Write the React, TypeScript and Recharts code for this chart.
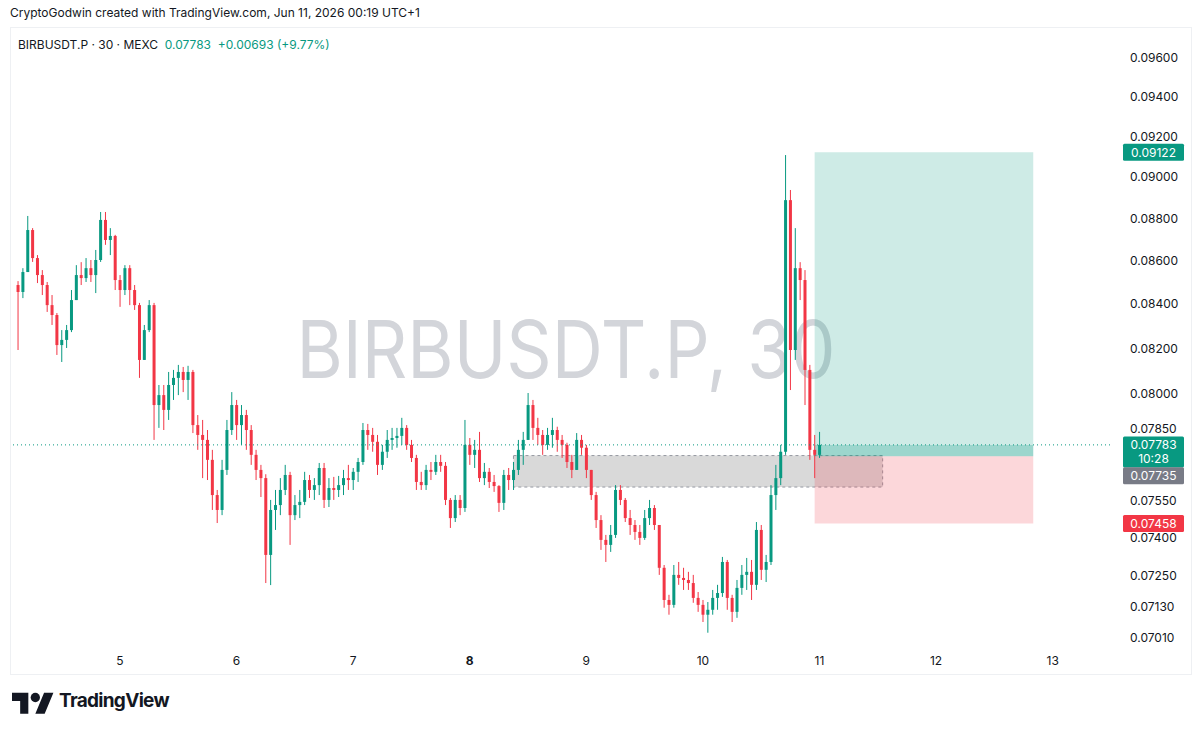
import {
  ComposedChart,
  Bar,
  XAxis,
  YAxis,
  ReferenceLine,
  ReferenceArea,
} from 'recharts';

// hourly candles, prices in units of 0.00001 USDT
const U = 1e-5;
const FIRST_OPEN = 8488;
const FIRST_HOUR = -21; // hours from Jun 5 00:00

const closes = [
  8456, 8548, 8745, 8613, 8534, 8488, 8396, 8351, 8216, 8239,
  8283, 8419, 8534, 8520, 8566, 8534, 8604, 8793, 8698, 8717,
  8511, 8465, 8566, 8465, 8396, 8150, 8283, 8396, 7953, 7996,
  7932, 8040, 8071, 8097, 8062, 8097, 7867, 7825, 7804, 7720,
  7574, 7513, 7678, 7846, 7953, 7867, 7910, 7846, 7741, 7678,
  7644, 7332, 7513, 7533, 7595, 7657, 7492, 7533, 7546, 7636,
  7595, 7615, 7686, 7554, 7603, 7595, 7615, 7644, 7636, 7670,
  7711, 7846, 7825, 7796, 7699, 7754, 7804, 7812, 7821, 7855,
  7783, 7728, 7628, 7615, 7678, 7670, 7711, 7695, 7554, 7480,
  7554, 7521, 7783, 7741, 7762, 7644, 7670, 7628, 7611, 7542,
  7657, 7636, 7678, 7762, 7804, 7953, 7855, 7825, 7783, 7825,
  7846, 7804, 7783, 7711, 7678, 7804, 7771, 7678, 7574, 7472,
  7392, 7372, 7412, 7595, 7554, 7480, 7452, 7424, 7400, 7480,
  7521, 7452, 7281, 7155, 7136, 7253, 7241, 7233, 7221, 7163,
  7136, 7098, 7117, 7163, 7182, 7304, 7163, 7109, 7202, 7253,
  7265, 7214, 7432, 7273, 7304, 7574, 7644, 7754, 8888, 8194,
  8566, 8511, 8106, 7762, 7741, 7783,
];

const highs = [
  8506, 8566, 8812, 8754, 8627, 8557, 8502, 8442, 8360, 8283,
  8306, 8465, 8580, 8594, 8613, 8604, 8651, 8831, 8831, 8754,
  8722, 8534, 8580, 8580, 8488, 8406, 8306, 8419, 8406, 8040,
  8040, 8097, 8106, 8128, 8119, 8124, 8106, 7910, 7889, 7846,
  7762, 7595, 7720, 7889, 8009, 7975, 7953, 7932, 7867, 7762,
  7699, 7660, 7554, 7595, 7644, 7699, 7670, 7574, 7595, 7670,
  7657, 7644, 7707, 7707, 7644, 7649, 7653, 7678, 7699, 7686,
  7728, 7876, 7872, 7855, 7825, 7783, 7846, 7855, 7855, 7898,
  7867, 7804, 7741, 7670, 7699, 7711, 7741, 7741, 7711, 7562,
  7574, 7574, 7889, 7812, 7804, 7838, 7707, 7686, 7657, 7615,
  7678, 7686, 7711, 7804, 7838, 8005, 7975, 7898, 7846, 7855,
  7898, 7860, 7825, 7792, 7741, 7833, 7825, 7783, 7678, 7587,
  7492, 7412, 7452, 7615, 7615, 7562, 7513, 7472, 7452, 7513,
  7554, 7533, 7452, 7292, 7175, 7292, 7304, 7281, 7265, 7253,
  7186, 7155, 7147, 7194, 7214, 7324, 7312, 7175, 7233, 7292,
  7320, 7312, 7464, 7452, 7332, 7615, 7699, 7783, 9108, 8937,
  8754, 8594, 8557, 8128, 7825, 7838,
];

const lows = [
  8194, 8428, 8548, 8595, 8497, 8442, 8365, 8306, 8172, 8141,
  8203, 8274, 8419, 8488, 8502, 8502, 8451, 8595, 8675, 8627,
  8465, 8388, 8442, 8396, 8374, 8071, 8150, 8274, 7804, 7855,
  7846, 7889, 7975, 7996, 8009, 7975, 7833, 7762, 7644, 7636,
  7513, 7460, 7492, 7657, 7825, 7804, 7783, 7762, 7699, 7636,
  7566, 7221, 7213, 7432, 7492, 7574, 7372, 7472, 7480, 7533,
  7562, 7554, 7574, 7521, 7525, 7554, 7566, 7574, 7595, 7595,
  7628, 7699, 7762, 7754, 7657, 7678, 7728, 7762, 7771, 7783,
  7762, 7711, 7595, 7595, 7595, 7636, 7657, 7670, 7533, 7440,
  7464, 7492, 7505, 7699, 7686, 7628, 7615, 7603, 7587, 7505,
  7513, 7595, 7595, 7657, 7699, 7804, 7804, 7783, 7741, 7762,
  7771, 7754, 7728, 7686, 7644, 7678, 7741, 7644, 7554, 7440,
  7352, 7304, 7344, 7400, 7533, 7464, 7412, 7392, 7372, 7392,
  7452, 7432, 7253, 7125, 7098, 7125, 7214, 7194, 7194, 7144,
  7109, 7070, 7029, 7098, 7117, 7167, 7117, 7070, 7086, 7175,
  7194, 7155, 7194, 7233, 7225, 7292, 7513, 7615, 7741, 8018,
  8150, 8419, 7953, 7720, 7644, 7728,
];

const priceTicks = [
  0.0701, 0.0713, 0.0725, 0.074, 0.0755, 0.0785, 0.08,
  0.082, 0.084, 0.086, 0.088, 0.09, 0.092, 0.094, 0.096,
];
const dayTicks = [0, 24, 48, 72, 96, 120, 144, 168, 192];
const dayLabels = ['5', '6', '7', '8', '9', '10', '11', '12', '13'];
const boldDay = '8';

const lastPrice = 0.07783;
const lastTimer = '10:28';
const entryPrice = 0.07735;
const targetPrice = 0.09122;
const stopPrice = 0.07458;
const positionHours = [143, 188];
const zoneHours = [81, 157];
const zonePrices = [0.07607, 0.07738];

const UP = '#089981';
const DOWN = '#f23645';
const TEXT = '#131722';

const data = closes.map((c, i) => {
  const open = (i === 0 ? FIRST_OPEN : closes[i - 1]) * U;
  return {
    t: FIRST_HOUR + i,
    open,
    close: c * U,
    high: highs[i] * U,
    low: lows[i] * U,
    range: [lows[i] * U, highs[i] * U],
  };
});

const Candle = (props: any) => {
  const { x, y, width, height, payload } = props;
  if (!payload) return null;
  const top = Math.min(y, y + height);
  const h = Math.abs(height);
  const { open, close, high, low } = payload;
  const span = Math.log(high) - Math.log(low) || 1;
  const pix = (p: number) => top + (h * (Math.log(high) - Math.log(p))) / span;
  const color = close >= open ? UP : DOWN;
  const cx = x + width / 2;
  const b1 = pix(Math.max(open, close));
  const b2 = pix(Math.min(open, close));
  return (
    <g>
      <line x1={cx} x2={cx} y1={top} y2={top + h} stroke={color} strokeWidth={1} />
      <rect x={x} y={b1} width={width} height={Math.max(1, b2 - b1)} fill={color} />
    </g>
  );
};

const tag = (text: string, bg: string, sub?: string, dy = 0) => (props: any) => {
  const vb = props.viewBox;
  if (!vb) return null;
  const x = vb.x + vb.width + 13;
  const top = vb.y - 8.5 + dy;
  const h = sub ? 31 : 17;
  return (
    <g>
      <rect x={x} y={top} width={61} height={h} rx={1.5} fill={bg} />
      <text x={x + 30.5} y={top + 12.8} textAnchor="middle" fill="#fff" fontSize={12} fontFamily="Inter, sans-serif">
        {text}
      </text>
      {sub && (
        <text x={x + 30.5} y={top + 26.5} textAnchor="middle" fill="#fff" fontSize={12} fontFamily="Inter, sans-serif">
          {sub}
        </text>
      )}
    </g>
  );
};

const DayTick = (props: any) => {
  const { x, y, payload } = props;
  const label = dayLabels[dayTicks.indexOf(payload.value)];
  return (
    <text x={x} y={y} dy="0.71em" textAnchor="middle" fill={TEXT} fontSize={12}
      fontWeight={label === boldDay ? 700 : 400} fontFamily="Inter, sans-serif">
      {label}
    </text>
  );
};

const Logo = () => (
  <svg width={42} height={33} viewBox="0 0 36 28" style={{ position: 'absolute', left: 12, top: 688 }}>
    <path d="M14 22H7V11H0V4h14v18zM28 22h-8l7.5-18h8L28 22z" fill="#131722" />
    <circle cx={20} cy={8} r={4} fill="#131722" />
  </svg>
);

export default function App() {
  return (
    <div style={{ position: 'absolute', left: 0, top: 0, width: 1200, height: 733, background: '#fff', overflow: 'hidden', fontFamily: 'Inter, Roboto, sans-serif', color: TEXT }}>
      <div style={{ position: 'absolute', left: 10, top: 5, fontSize: 12 }}>
        CryptoGodwin created with TradingView.com, Jun 11, 2026 00:19 UTC+1
      </div>
      <div style={{ position: 'absolute', left: 10, top: 27, width: 1180, height: 646, border: '1px solid #eef0f3' }} />
      <div style={{ position: 'absolute', left: 18, top: 37, fontSize: 12, whiteSpace: 'pre' }}>
        BIRBUSDT.P · 30 · MEXC{'  '}
        <span style={{ color: UP }}>0.07783{'  '}+0.00693 (+9.77%)</span>
      </div>
      <svg width={1200} height={733} style={{ position: 'absolute', left: 0, top: 0 }}>
        <text x={566} y={378} textAnchor="middle" fontSize={80} textLength={539} lengthAdjust="spacingAndGlyphs"
          fill="#d3d5da" fontFamily="Inter, sans-serif">
          BIRBUSDT.P, 30
        </text>
      </svg>
      <div style={{ position: 'absolute', left: 0, top: 0 }}>
        <ComposedChart width={1200} height={690} data={data} margin={{ top: 31, right: 0, bottom: 0, left: 10 }}>
          <XAxis dataKey="t" type="number" domain={[-22.64, 203.8]} allowDataOverflow ticks={dayTicks}
            interval={0} axisLine={false} tickLine={false} tickSize={6} height={42} tick={<DayTick />} />
          <YAxis orientation="right" scale="log" domain={[0.06971, 0.09742]} allowDataOverflow ticks={priceTicks}
            interval={0} width={90} axisLine={false} tickLine={false} tickMargin={14}
            tickFormatter={(v: number) => v.toFixed(5)}
            tick={{ fill: TEXT, fontSize: 12, fontFamily: 'Inter, sans-serif' }} />
          <ReferenceArea x1={zoneHours[0]} x2={zoneHours[1]} y1={zonePrices[0]} y2={zonePrices[1]}
            fill="#000" fillOpacity={0.15} stroke="#9598a1" strokeDasharray="3 3" />
          <ReferenceArea x1={positionHours[0]} x2={positionHours[1]} y1={lastPrice} y2={targetPrice}
            fill={UP} fillOpacity={0.2} stroke="none" />
          <ReferenceArea x1={positionHours[0]} x2={positionHours[1]} y1={entryPrice} y2={lastPrice}
            fill={UP} fillOpacity={0.4} stroke="none" />
          <ReferenceArea x1={positionHours[0]} x2={positionHours[1]} y1={stopPrice} y2={entryPrice}
            fill={DOWN} fillOpacity={0.2} stroke="none" />
          <Bar dataKey="range" barSize={3} shape={<Candle />} isAnimationActive={false} />
          <ReferenceLine y={lastPrice} stroke={UP} strokeDasharray="1 3" label={tag('0.07783', UP, lastTimer)} />
          <ReferenceLine y={targetPrice} stroke="none" label={tag('0.09122', UP)} />
          <ReferenceLine y={entryPrice} stroke="none" label={tag('0.07735', '#787b86', undefined, 19.5)} />
          <ReferenceLine y={stopPrice} stroke="none" label={tag('0.07458', DOWN)} />
        </ComposedChart>
      </div>
      <Logo />
      <div style={{ position: 'absolute', left: 59, top: 689, fontSize: 19, fontWeight: 700, letterSpacing: -0.7 }}>
        TradingView
      </div>
    </div>
  );
}
